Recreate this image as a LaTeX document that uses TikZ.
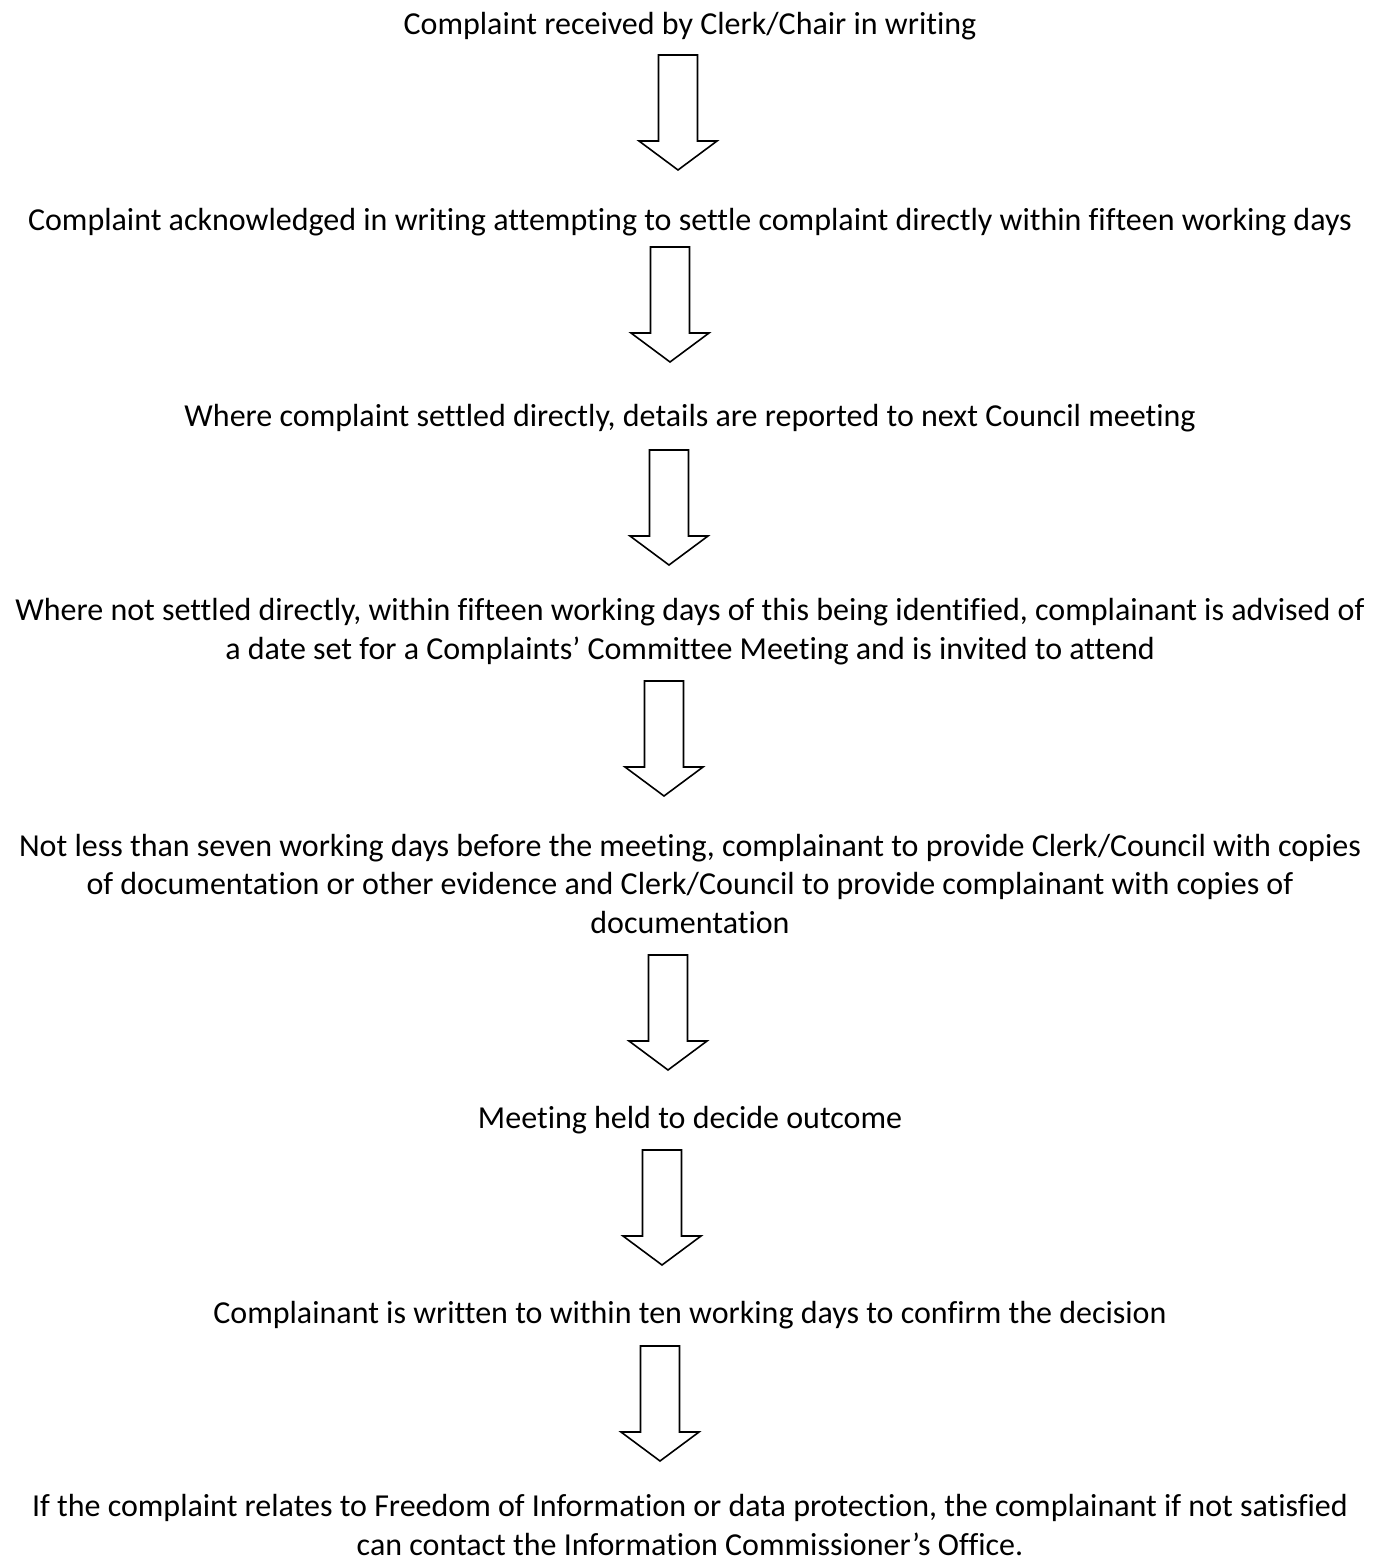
\documentclass[tikz,border=0pt]{standalone}
\usepackage{fontspec}
\setmainfont{Carlito}[Ligatures={NoCommon}]
\begin{document}
\begin{tikzpicture}[x=1pt,y=-1pt,
  txt/.style={anchor=base,inner sep=0pt,align=center,font=\fontsize{32}{38.5}\selectfont},
  blockarrow/.pic={\draw[line width=1.6pt,line join=miter,fill=white]
     (-19.5,0) -- (19.5,0) -- (19.5,86) -- (39,86) -- (0,115) -- (-39,86) -- (-19.5,86) -- cycle;}
]
\useasboundingbox (0,0) rectangle (1387,1560);
% multi-line nodes: base anchor sits on the last line's baseline
\node[txt] (t1) at (690,35) {Complaint received by Clerk/Chair in writing};
\node[txt] (t2) at (690,230) {Complaint acknowledged in writing attempting to settle complaint directly within fifteen working days};
\node[txt] (t3) at (690,426) {Where complaint settled directly, details are reported to next Council meeting};
\node[txt] (t4) at (690,659) {Where not settled directly, within fifteen working days of this being identified, complainant is advised of\\a date set for a Complaints’ Committee Meeting and is invited to attend};
\node[txt] (t5) at (690,933) {Not less than seven working days before the meeting, complainant to provide Clerk/Council with copies\\of documentation or other evidence and Clerk/Council to provide complainant with copies of\\documentation};
\node[txt] (t6) at (690,1128) {Meeting held to decide outcome};
\node[txt] (t7) at (690,1323) {Complainant is written to within ten working days to confirm the decision};
\node[txt] (t8) at (690,1555) {If the complaint relates to Freedom of Information or data protection, the complainant if not satisfied\\can contact the Information Commissioner’s Office.};
\pic (a1) at (678,55) {blockarrow};
\pic (a2) at (670,247) {blockarrow};
\pic (a3) at (669,450) {blockarrow};
\pic (a4) at (664,681) {blockarrow};
\pic (a5) at (668,955) {blockarrow};
\pic (a6) at (662,1150) {blockarrow};
\pic (a7) at (660,1346) {blockarrow};
\end{tikzpicture}
\end{document}
